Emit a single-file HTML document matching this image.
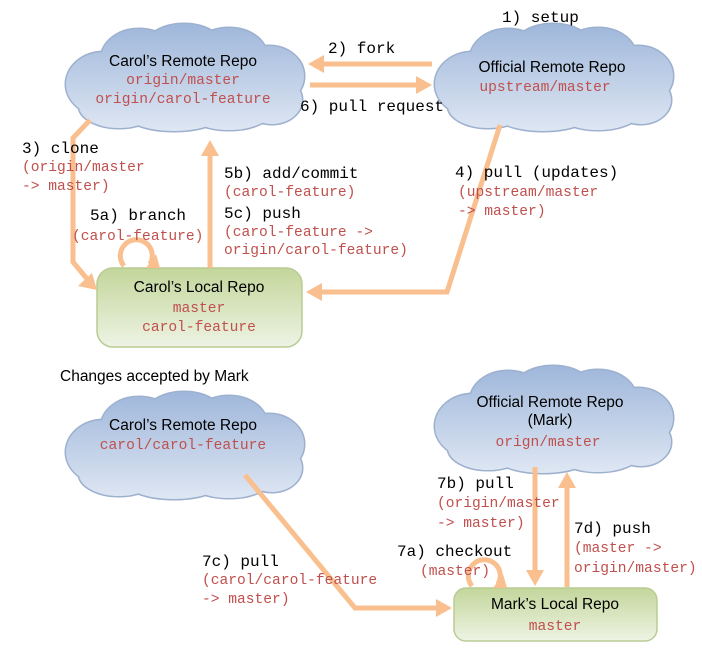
<!DOCTYPE html>
<html><head><meta charset="utf-8"><style>
html,body{margin:0;padding:0;background:#fff;}
svg{display:block;}
.t{font-family:"Liberation Sans",sans-serif;font-size:15.5px;fill:#000;}
.m{font-family:"Liberation Mono",monospace;font-size:16px;fill:#000;}
.r{font-family:"Liberation Mono",monospace;font-size:14.6px;fill:#c0504d;}
.a{stroke:#f9bf8f;stroke-width:5;fill:none;}
.h{fill:#f9bf8f;}
</style></head><body>
<svg width="702" height="658" viewBox="0 0 702 658" xmlns="http://www.w3.org/2000/svg">
<defs>
<linearGradient id="cg" gradientUnits="userSpaceOnUse" x1="0" y1="0" x2="0" y2="108"><stop offset="0" stop-color="#9fb7db"/><stop offset="1" stop-color="#dfe7f3"/></linearGradient>
<linearGradient id="gg" x1="0" y1="0" x2="0" y2="1"><stop offset="0" stop-color="#c3d69b"/><stop offset="1" stop-color="#eef3e4"/></linearGradient>
<g id="cs" stroke="#9db1cf" stroke-width="3" fill="#9db1cf">
<ellipse cx="40" cy="60" rx="38" ry="32"/><ellipse cx="75" cy="35" rx="38" ry="30"/><ellipse cx="120" cy="28" rx="42" ry="28"/><ellipse cx="165" cy="32" rx="38" ry="28"/><ellipse cx="205" cy="52" rx="35" ry="30"/><ellipse cx="208" cy="76" rx="30" ry="24"/><ellipse cx="165" cy="84" rx="45" ry="22"/><ellipse cx="110" cy="88" rx="50" ry="19"/><ellipse cx="55" cy="82" rx="40" ry="22"/>
</g>
<g id="cf" fill="url(#cg)">
<ellipse cx="40" cy="60" rx="38" ry="32"/><ellipse cx="75" cy="35" rx="38" ry="30"/><ellipse cx="120" cy="28" rx="42" ry="28"/><ellipse cx="165" cy="32" rx="38" ry="28"/><ellipse cx="205" cy="52" rx="35" ry="30"/><ellipse cx="208" cy="76" rx="30" ry="24"/><ellipse cx="165" cy="84" rx="45" ry="22"/><ellipse cx="110" cy="88" rx="50" ry="19"/><ellipse cx="55" cy="82" rx="40" ry="22"/>
<rect x="40" y="40" width="170" height="50"/>
</g>
</defs>

<g transform="translate(64,24)"><use href="#cs"/><use href="#cf"/></g>
<g transform="translate(433,24)"><use href="#cs"/><use href="#cf"/></g>
<g transform="translate(64,392)"><use href="#cs"/><use href="#cf"/></g>
<g transform="translate(433,366)"><use href="#cs"/><use href="#cf"/></g>

<rect x="97" y="268" width="205" height="79" rx="16" fill="url(#gg)" stroke="#b9cc94" stroke-width="1.5"/>
<rect x="454" y="588" width="203" height="53" rx="12" fill="url(#gg)" stroke="#b9cc94" stroke-width="1.5"/>

<line class="a" x1="432" y1="64" x2="322" y2="64"/><polygon class="h" points="308,64 324,55 324,73"/>
<line class="a" x1="310" y1="85" x2="418" y2="85"/><polygon class="h" points="432,85 416,76 416,94"/>
<polyline class="a" points="90,120 73,138 73,262 88,280"/><polygon class="h" points="97,290 78,286 92,273"/>
<line class="a" x1="210" y1="268" x2="210" y2="154"/><polygon class="h" points="210,140 201,156 219,156"/>
<polyline class="a" points="500,125 447,292 320,292"/><polygon class="h" points="306,292 322,283 322,301"/>
<path class="a" d="M124,266 A16,16 0 1 1 150,264"/><polygon class="h" points="146,268 156,254 160,268"/>
<polyline class="a" points="245,475 355,608 438,608"/><polygon class="h" points="452,608 436,599 436,617"/>
<line class="a" x1="535" y1="467" x2="535" y2="572"/><polygon class="h" points="535,586 526,570 544,570"/>
<line class="a" x1="567" y1="587" x2="567" y2="486"/><polygon class="h" points="567,472 558,488 576,488"/>
<path class="a" d="M472,586 A16,16 0 1 1 498,584"/><polygon class="h" points="493,588 503,574 507,588"/>

<text class="t" x="183" y="66" text-anchor="middle">Carol’s Remote Repo</text>
<text class="r" x="183" y="84" text-anchor="middle">origin/master</text>
<text class="r" x="183" y="103" text-anchor="middle">origin/carol-feature</text>
<text class="t" x="552" y="72" text-anchor="middle">Official Remote Repo</text>
<text class="r" x="545" y="91" text-anchor="middle">upstream/master</text>
<text class="t" x="183" y="430" text-anchor="middle">Carol’s Remote Repo</text>
<text class="r" x="183" y="449" text-anchor="middle">carol/carol-feature</text>
<text class="t" x="550" y="407" text-anchor="middle">Official Remote Repo</text>
<text class="t" x="550" y="425" text-anchor="middle">(Mark)</text>
<text class="r" x="548" y="446" text-anchor="middle">orign/master</text>
<text class="t" x="199" y="292" text-anchor="middle">Carol’s Local Repo</text>
<text class="r" x="199" y="312" text-anchor="middle">master</text>
<text class="r" x="199" y="331" text-anchor="middle">carol-feature</text>
<text class="t" x="555" y="609" text-anchor="middle">Mark’s Local Repo</text>
<text class="r" x="555" y="630" text-anchor="middle">master</text>

<text class="m" x="502" y="22">1) setup</text>
<text class="m" x="328" y="53">2) fork</text>
<text class="m" x="300" y="111">6) pull request</text>
<text class="m" x="22" y="153">3) clone</text>
<text class="r" x="22" y="171">(origin/master</text>
<text class="r" x="22" y="190">-&gt; master)</text>
<text class="m" x="90" y="220">5a) branch</text>
<text class="r" x="72" y="240">(carol-feature)</text>
<text class="m" x="224" y="178">5b) add/commit</text>
<text class="r" x="224" y="196">(carol-feature)</text>
<text class="m" x="224" y="218">5c) push</text>
<text class="r" x="224" y="236">(carol-feature -&gt;</text>
<text class="r" x="224" y="254">origin/carol-feature)</text>
<text class="m" x="455" y="177">4) pull (updates)</text>
<text class="r" x="458" y="196">(upstream/master</text>
<text class="r" x="458" y="215">-&gt; master)</text>
<text class="t" x="60" y="381">Changes accepted by Mark</text>
<text class="m" x="437" y="488">7b) pull</text>
<text class="r" x="437" y="507">(origin/master</text>
<text class="r" x="437" y="527">-&gt; master)</text>
<text class="m" x="574" y="533">7d) push</text>
<text class="r" x="574" y="552">(master -&gt;</text>
<text class="r" x="574" y="572">origin/master)</text>
<text class="m" x="397" y="556">7a) checkout</text>
<text class="r" x="420" y="575">(master)</text>
<text class="m" x="202" y="566">7c) pull</text>
<text class="r" x="202" y="584">(carol/carol-feature</text>
<text class="r" x="202" y="603">-&gt; master)</text>
</svg>
</body></html>
